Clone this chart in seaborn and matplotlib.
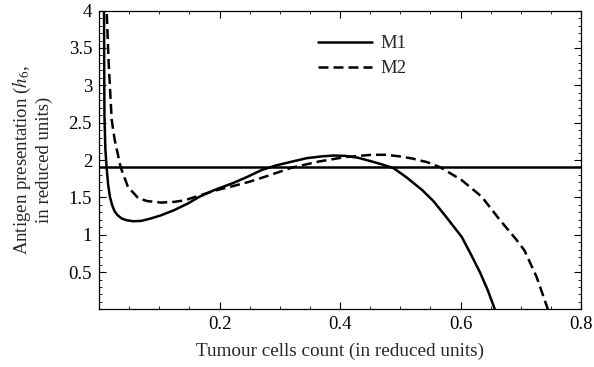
import numpy as np
import pandas as pd
import matplotlib
matplotlib.use('Agg')
import matplotlib.pyplot as plt
import matplotlib.ticker as ticker
import seaborn as sns

# Values
m1_x = [0.0080, 0.0083, 0.0086, 0.0090, 0.0105, 0.0126, 0.015, 0.018, 0.022, 0.026,
        0.031, 0.037, 0.045, 0.057, 0.070, 0.085, 0.103, 0.125, 0.148, 0.167,
        0.192, 0.222, 0.245, 0.271, 0.295, 0.321, 0.345, 0.371, 0.390, 0.409,
        0.430, 0.453, 0.470, 0.489, 0.510, 0.536, 0.555, 0.575, 0.602, 0.617,
        0.632, 0.645, 0.657]
m1_y = [4.30, 4.00, 3.20, 2.60, 2.15, 1.90, 1.68, 1.51, 1.39, 1.31,
        1.26, 1.22, 1.195, 1.18, 1.185, 1.215, 1.26, 1.33, 1.42, 1.51,
        1.60, 1.69, 1.77, 1.87, 1.93, 1.98, 2.025, 2.05, 2.06, 2.055,
        2.03, 1.98, 1.94, 1.89, 1.77, 1.60, 1.45, 1.25, 0.97, 0.74,
        0.50, 0.26, 0.0]

m2_x = [0.0120, 0.0127, 0.016, 0.021, 0.026, 0.036, 0.048, 0.065, 0.080, 0.103,
        0.125, 0.142, 0.165, 0.192, 0.222, 0.250, 0.277, 0.321, 0.365, 0.409,
        0.453, 0.475, 0.498, 0.520, 0.545, 0.567, 0.602, 0.635, 0.665, 0.693,
        0.706, 0.726, 0.745]
m2_y = [4.20, 4.00, 3.30, 2.54, 2.27, 1.90, 1.64, 1.49, 1.45, 1.43,
        1.44, 1.46, 1.52, 1.59, 1.65, 1.71, 1.78, 1.90, 1.98, 2.04,
        2.07, 2.07, 2.05, 2.02, 1.97, 1.90, 1.73, 1.51, 1.20, 0.93,
        0.79, 0.44, 0.0]

threshold = 1.9

x_ticks = [0.2, 0.4, 0.6, 0.8]
y_ticks = [0.5, 1, 1.5, 2, 2.5, 3, 3.5, 4]

df = pd.DataFrame({
    'x': m1_x + m2_x,
    'y': m1_y + m2_y,
    'model': ['M1'] * len(m1_x) + ['M2'] * len(m2_x),
})

sns.set_theme(style='white')
plt.rcParams['font.family'] = ['Liberation Serif', 'DejaVu Serif']
plt.rcParams['mathtext.fontset'] = 'stix'

fig = plt.figure(figsize=(5.94, 3.67), dpi=100)
ax = fig.add_axes([0.1667, 0.157, 0.8115, 0.814])

sns.lineplot(data=df, x='x', y='y', style='model', color='black',
             dashes={'M1': '', 'M2': (4, 2)}, lw=1.8,
             estimator=None, sort=False, ax=ax)
ax.axhline(threshold, color='black', lw=1.8)

ax.set_xlim(0, 0.8)
ax.set_ylim(0, 4)
ax.set_xticks(x_ticks)
ax.set_yticks(y_ticks)
ax.set_xticklabels([f'{t:g}' for t in x_ticks])
ax.set_yticklabels([f'{t:g}' for t in y_ticks])
ax.xaxis.set_minor_locator(ticker.MultipleLocator(0.05))
ax.yaxis.set_minor_locator(ticker.MultipleLocator(0.1))
ax.tick_params(which='both', direction='in', top=True, right=True,
               bottom=True, left=True, colors='black', labelsize=13.5)
ax.tick_params(which='major', length=5, width=0.8, pad=5)
ax.tick_params(which='minor', length=2.5, width=0.6)
for s in ax.spines.values():
    s.set_color('black')
    s.set_linewidth(0.9)

ax.set_xlabel('Tumour cells count (in reduced units)', fontsize=13.8, labelpad=7)
ax.set_ylabel('Antigen presentation ($h_6$,\nin reduced units)', fontsize=13.5,
              labelpad=11, linespacing=1.25)

ax.legend(title=None, frameon=False, loc='upper left', bbox_to_anchor=(0.454, 0.918),
          borderaxespad=0, borderpad=0, handlelength=2.9, handletextpad=0.43,
          labelspacing=0.42, fontsize=13.5)

fig.savefig('out.png', dpi=100)
